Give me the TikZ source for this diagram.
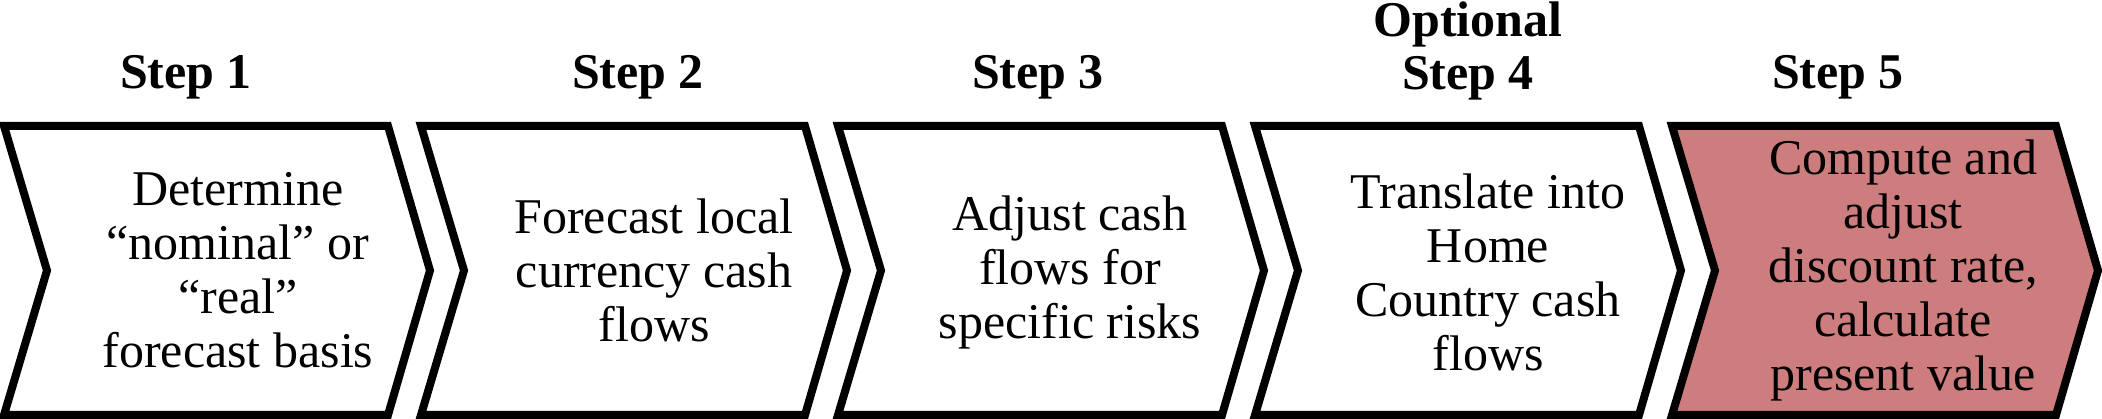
\documentclass[tikz,border=0pt]{standalone}
\usepackage{fontspec}
\setmainfont{Liberation Serif}
\usepackage{tikz}
\definecolor{stepred}{HTML}{CD7D7D}

\tikzset{
  chevron/.style={draw=black, line width=8pt, fill=white},
  body/.style={align=center, font=\fontsize{50}{54}\selectfont, inner sep=0pt},
  label/.style={align=center, font=\fontsize{50}{53}\selectfont\bfseries, inner sep=0pt, anchor=base}
}

\begin{document}
\begin{tikzpicture}[x=1pt, y=-1pt]
  \useasboundingbox (0,0) rectangle (2102,419);
  % Define chevrons
  \foreach \i in {0,...,4} {
    \coordinate (c\i) at ({4+417*\i},126);
  }
  \foreach \i/\col in {0/white,1/white,2/white,3/white,4/stepred} {
    \draw[chevron, fill=\col] (c\i) -- ++(384,0) -- ++(42,144.5) -- ++(-42,144.5)
      -- ++(-384,0) -- ++(43,-144.5) -- cycle;
  }
  % Define texts
  \node[body] (t1) at (238,270) {Determine\\``nominal'' or\\``real''\\forecast basis};
  \node[body] (t2) at (654,270) {Forecast local\\currency cash\\flows};
  \node[body] (t3) at (1070,272) {Adjust cash\\flows for\\specific risks};
  \node[body] (t4) at (1488,272) {Translate into\\Home\\Country cash\\flows};
  \node[body] (t5) at (1903,270) {Compute and\\adjust\\discount rate,\\calculate\\present value};
  % Step labels
  \node[label] (s1) at (186,89) {Step 1};
  \node[label] (s2) at (638,89) {Step 2};
  \node[label] (s3) at (1038,89) {Step 3};
  \node[label] (s4) at (1468,90) {Optional\\Step 4};
  \node[label] (s5) at (1838,89) {Step 5};
\end{tikzpicture}
\end{document}
